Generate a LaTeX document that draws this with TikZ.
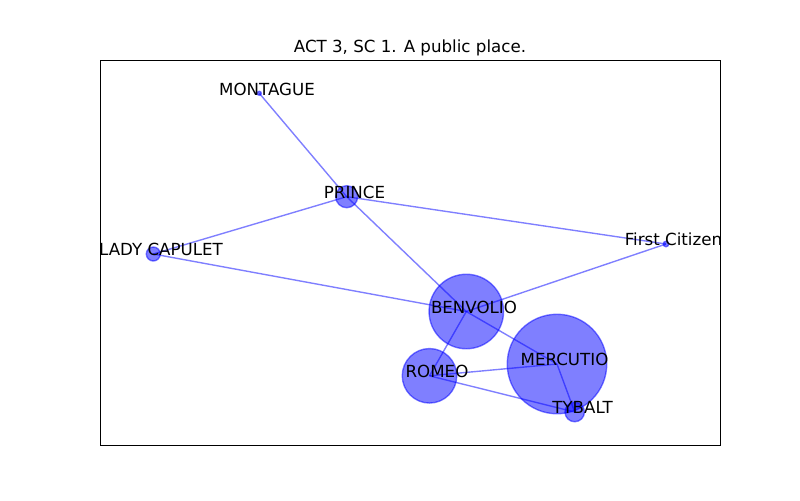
\documentclass[tikz,border=0pt]{standalone}
\usepackage{fontspec}
\setmainfont{DejaVu Sans}
\begin{document}
\begin{tikzpicture}[x=0.72pt,y=-0.72pt,
  nd/.style={circle, inner sep=0pt, minimum size=#1*0.72pt, fill=blue, draw=blue,
    fill opacity=0.5, draw opacity=0.5, line width=1pt},
  edge/.style={blue, draw opacity=0.5, line width=1pt},
  lbl/.style={anchor=base, inner sep=0pt, font=\fontsize{12}{14}\selectfont, text=black},
  frame/.style={draw=black, line width=0.75pt}]
\useasboundingbox (0,0) rectangle (800,500);
% axes frame
\draw[frame] (100.5,60.5) rectangle (720.5,445.5);
\node[lbl] (title) at (410,52.5) {ACT 3, SC 1. A public place.};
% nodes
\node[nd=4]    (montague) at (259.3,93.3) {};
\node[nd=22]   (prince)   at (346.7,196.7) {};
\node[nd=14]   (lady)     at (153.3,254) {};
\node[nd=5.5]  (first)    at (666,244) {};
\node[nd=74.5] (benvolio) at (466.3,311.5) {};
\node[nd=99.5] (mercutio) at (557,364) {};
\node[nd=54.5] (romeo)    at (429.5,375.8) {};
\node[nd=19.5] (tybalt)   at (574.7,412) {};
% edges
\draw[edge] (montague.center) -- (prince.center);
\draw[edge] (prince.center) -- (benvolio.center);
\draw[edge] (prince.center) -- (lady.center);
\draw[edge] (prince.center) -- (first.center);
\draw[edge] (lady.center) -- (benvolio.center);
\draw[edge] (benvolio.center) -- (first.center);
\draw[edge] (benvolio.center) -- (romeo.center);
\draw[edge] (benvolio.center) -- (mercutio.center);
\draw[edge] (romeo.center) -- (mercutio.center);
\draw[edge] (romeo.center) -- (tybalt.center);
\draw[edge] (mercutio.center) -- (tybalt.center);
% labels
\node[lbl] (lmontague) at (267,95) {MONTAGUE};
\node[lbl] (lprince)   at (354.5,198.5) {PRINCE};
\node[lbl] (llady)     at (161,255.7) {LADY CAPULET};
\node[lbl] (lfirst)    at (673.5,245.7) {First Citizen};
\node[lbl] (lbenvolio) at (474,313.2) {BENVOLIO};
\node[lbl] (lmercutio) at (564.5,365.7) {MERCUTIO};
\node[lbl] (lromeo)    at (437,377.5) {ROMEO};
\node[lbl] (ltybalt)   at (582.5,413.7) {TYBALT};
\end{tikzpicture}
\end{document}
